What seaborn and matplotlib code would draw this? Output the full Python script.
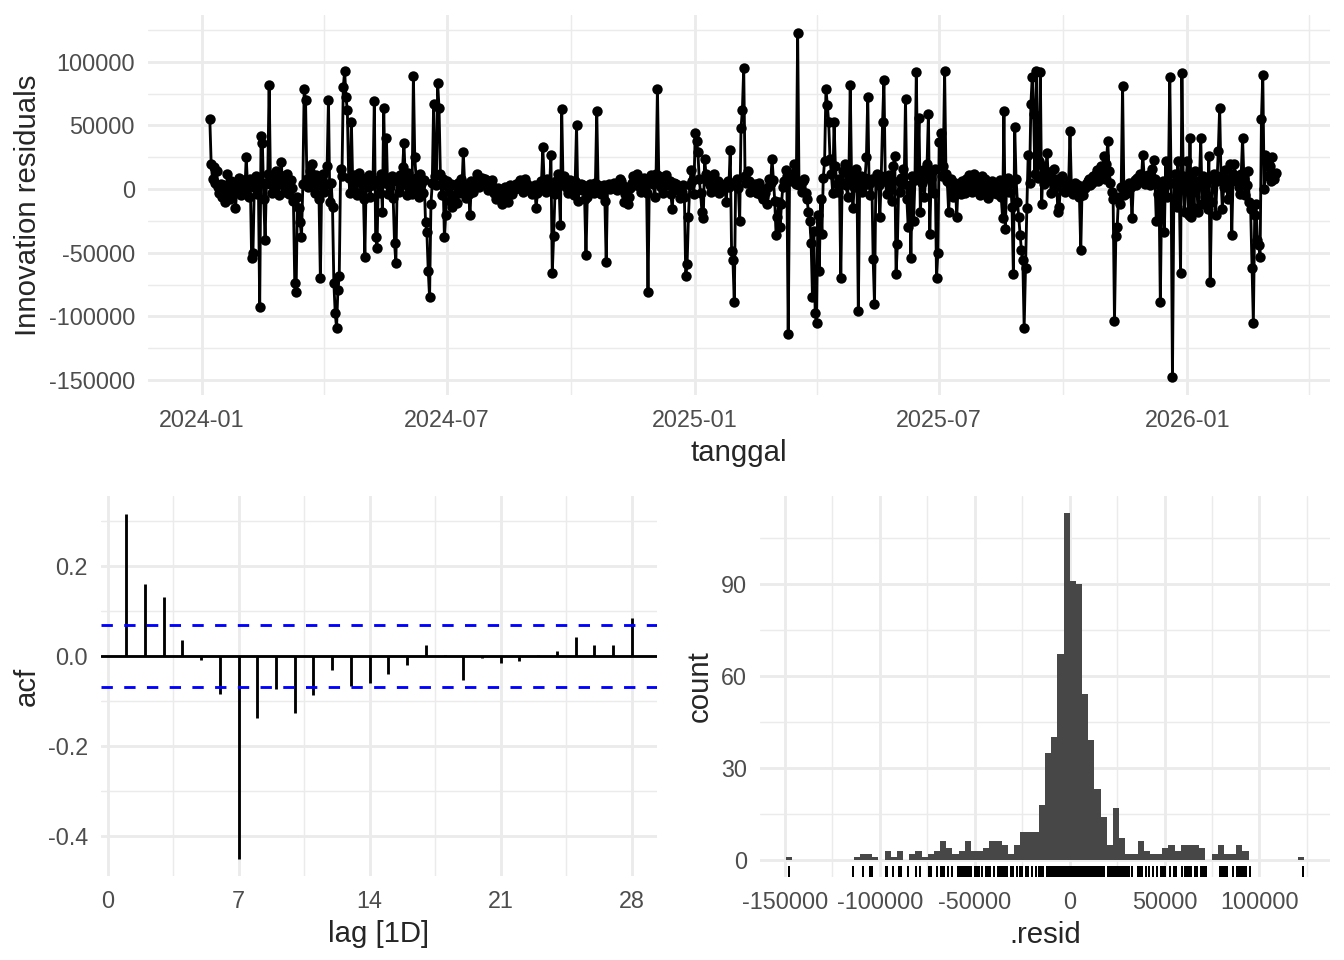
import numpy as np
import pandas as pd
import matplotlib
matplotlib.use("Agg")
import matplotlib.pyplot as plt
import matplotlib.dates as mdates
import seaborn as sns

# innovation residuals (thousands), one value per day starting 2024-01-07
resid_k = [
    55, 20, 8, 17, 5, 14, 2, -3, 4, -6, 3, -10, -4, 12, 1, -8, 6, -2, 3, -15,
    -2, 4, 9, -5, 2, 7, -1, 25, 3, -6, 8, -54, -50, 2, 10, -4, 6, -93, 42, 36,
    -8, -40, 5, 12, 82, 4, -3, 9, 2, 14, 6, -5, 11, 21, 3, 8, -2, 12, 5, -4,
    7, 1, -9, -74, -81, -6, -15, -26, -38, 4, 79, 70, 8, 2, 14, 5, 20, 9, -3, 11,
    3, -8, -70, 6, 12, -2, 4, 18, 70, -10, 5, -14, -74, -97, -109, -79, -68, 16, 10, 80,
    93, 72, 62, 9, -3, 53, 4, 11, -2, -5, 7, 13, -4, 6, -8, -53, 9, 2, 11, -6,
    8, 3, 69, -38, -46, 7, -3, 12, -18, 64, 5, 40, -4, 9, 2, 10, -7, -42, -58, 6,
    -2, 11, 3, 17, 36, 8, -5, 13, 1, 6, -4, 89, 25, 9, 2, -6, 12, 4, -3, 7,
    -26, -34, -64, -85, -12, 5, 67, 10, 3, 83, 64, 12, -5, 8, -38, -20, 6, 2, -9, 4,
    -14, -6, 3, -11, 5, -3, 8, 1, 29, 4, -7, 2, -4, -20, 6, -2, 3, 5, 12, 7,
    2, 4, 9, 6, 8, 5, -1, 3, 6, 7, 2, -3, -8, -5, 1, -2, -6, -12, -4, 2,
    -5, -10, -1, 3, -4, 2, 0, 4, 1, 5, 7, 3, -2, 6, 8, 4, 1, -1, 2, -4,
    0, 3, -15, -3, 2, -1, 6, 33, 5, -2, 8, 4, 1, 27, -66, -37, -4, 6, 12, 3,
    -28, 63, 5, 10, 2, 4, -3, 7, 1, 3, -5, 6, 50, -9, 2, 4, -1, 3, -8, -52,
    -6, 1, 4, 0, 2, -3, 5, 61, 3, -2, -4, 1, 3, -9, -57, 2, 4, 0, 1, 3,
    5, 2, -1, 4, 8, 6, 3, -10, -4, 2, -12, -6, 1, 5, 10, 7, 3, 12, 5, 2,
    -2, 4, 9, 3, -3, -81, 6, 11, 8, 4, -6, 12, 79, 10, 5, 2, -3, 7, 11, 4,
    3, 6, -4, -16, 5, 2, 4, -1, 1, -7, -2, 3, -6, -68, -59, -22, 3, 15, 6, -4,
    44, 38, 29, 8, -3, -18, -23, 24, 12, 6, 9, 3, -2, 7, 12, 5, 1, 6, -3, 4,
    2, -1, 3, -10, 6, 2, 31, -49, -56, -89, 4, 8, 1, -25, 48, 62, 95, 10, 5, 14,
    6, -2, 3, 1, 4, 2, -3, 5, 0, -5, -8, -6, -3, -12, 2, 8, 5, 24, 7, -9,
    -36, -22, -10, -30, -12, 2, 6, 15, 10, -114, 8, 12, 6, 20, 9, 4, 123, 3, 5, -2,
    6, 8, -3, -8, -18, -25, -42, -85, -33, -97, -105, -20, -64, -8, -35, 9, 22, 79, 66, 53,
    24, 12, -3, 53, 18, 4, -2, 8, -70, 5, 14, 20, 3, -6, 11, 82, 7, -15, 2, 16,
    4, -96, 6, 10, -2, 3, 9, 25, 72, 4, -5, 8, -55, -90, 6, 12, 3, -22, 10, 53,
    86, 8, -4, 5, 11, 2, -9, 18, 26, -67, -43, 6, -2, 9, 16, 4, 71, -8, -30, 3,
    -54, 10, -25, 7, 92, 12, 56, -18, 5, 15, -6, 9, 20, 59, -35, 8, 14, -3, 16, -70,
    -50, 37, 44, 10, 18, 93, 12, 6, -18, 4, 8, -6, 2, 5, -22, 3, 1, -4, 6, 2,
    -3, 8, 5, 11, 3, -2, 7, 12, 4, 9, 2, -5, 6, 10, 3, 8, -1, -7, 4, 2,
    6, -3, 1, 5, -4, 2, 7, -6, -23, 61, -31, 4, 9, -2, 5, -14, -67, 49, 8, -10,
    -22, -36, -48, -56, -109, -62, -15, 27, 5, 67, 88, 59, 12, 93, 9, 22, 92, -12, 18, 4,
    14, 28, 7, 12, -3, 6, 16, 2, 8, -18, -14, 5, 10, 3, -2, 6, 1, 4, 46, 3,
    -4, 2, 5, -1, 3, -6, -48, 2, -5, 1, 4, 6, 8, 3, 5, 10, 7, 12, 15, 6,
    9, 18, 11, 26, 8, 20, 38, 14, 5, -2, -8, -104, -37, -30, -6, -12, 2, 81, -5, 1,
    -3, 3, 5, 2, -23, 4, 7, 3, 9, 6, 12, 8, 27, 10, 4, 6, 11, 3, 5, 16,
    23, 8, -25, -4, 3, -89, -2, 6, -34, 22, -6, 4, 88, 5, -148, -8, 12, -14, 22, 3,
    -66, 91, 10, -18, 5, 22, -20, 40, -22, 8, -15, 14, 3, -18, 6, 40, -12, 10, -6, 4,
    -16, 26, -73, -10, 8, 12, -20, 6, 30, 64, 10, -16, 2, 15, 8, -8, 5, 20, -36, 12,
    20, 6, 10, 2, -4, 12, 40, 8, -5, 3, 14, -10, -16, -62, -105, -20, -12, -40, -44, -53,
    55, 90, 0, 27, 22, 10, 18, 6, 25, 8, 12, 13,
]
start_date = "2024-01-07"
# the series index starts 2024-01-01; the first days have no residual
index_start = "2024-01-01"

# autocorrelation of the residuals, lags 1..28
acf_vals = [0.317, 0.159, 0.131, 0.035, -0.010, -0.085, -0.452, -0.139, -0.073, -0.127,
            -0.087, -0.032, -0.067, -0.061, -0.041, -0.020, 0.024, 0.003, -0.053, -0.005,
            -0.016, -0.012, 0.001, 0.012, 0.043, 0.024, 0.024, 0.084]
acf_ci = 0.0696

# histogram of residuals: counts per bin, bins start at -149500, width 3250
hist_start = -149500
hist_binwidth = 3250
hist_counts = [1, 0, 0, 0, 0, 0, 0, 0, 0, 0, 0, 1, 2, 2, 1, 0, 3, 1, 3, 0,
               2, 3, 1, 2, 3, 6, 4, 2, 3, 6, 3, 3, 4, 6, 6, 5, 2, 5, 9, 9,
               9, 18, 35, 40, 67, 113, 91, 90, 54, 39, 23, 14, 5, 17, 7, 2, 2, 6, 3, 2,
               2, 4, 5, 3, 5, 5, 5, 4, 0, 2, 5, 2, 2, 5, 3, 0, 0, 0, 0, 0,
               0, 0, 0, 1]

sns.set_style("white")
plt.rcParams['font.family'] = ['Liberation Sans', 'DejaVu Sans']
plt.rcParams['axes.unicode_minus'] = False

W, H = 1344, 960
fig = plt.figure(figsize=(W / 144, H / 144), dpi=144)

TICK_FS = 11.7
TITLE_FS = 14.7
LW = 1.42


def add_ax(l, t, r, b):
    return fig.add_axes([l / W, 1 - b / H, (r - l) / W, (b - t) / H])


def style(ax):
    for s in ax.spines.values():
        s.set_visible(False)
    ax.tick_params(which='both', length=0, labelsize=TICK_FS, labelcolor='#4D4D4D')
    ax.tick_params(axis='x', pad=6.8)
    ax.tick_params(axis='y', pad=6.5)
    ax.grid(which='major', color='#EBEBEB', lw=LW)
    ax.grid(which='minor', color='#EBEBEB', lw=LW / 2)
    ax.set_axisbelow(True)


ax1 = add_ax(148, 15, 1330, 395)
ax2 = add_ax(101, 496, 657, 876)
ax3 = add_ax(760, 496, 1330, 877)

# --- residual time series ---
dates = pd.date_range(start_date, periods=len(resid_k), freq='D')
resid = np.array(resid_k) * 1000
sns.lineplot(x=dates, y=resid, ax=ax1, color='black', lw=LW,
             marker='o', markersize=5.2, markeredgewidth=0)
x0 = mdates.date2num(pd.Timestamp(index_start))
x1 = mdates.date2num(dates[-1])
ax1.set_xlim(x0 - 0.05 * (x1 - x0), x1 + 0.05 * (x1 - x0))
ax1.set_ylim(-161800, 136800)
major_dates = pd.to_datetime(['2024-01-01', '2024-07-01', '2025-01-01', '2025-07-01', '2026-01-01'])
minor_dates = pd.to_datetime(['2024-04-01', '2024-10-01', '2025-04-01', '2025-10-01', '2026-04-01'])
ax1.set_xticks(mdates.date2num(major_dates))
ax1.set_xticklabels([d.strftime('%Y-%m') for d in major_dates])
ax1.set_xticks(mdates.date2num(minor_dates), minor=True)
yt = [-150000, -100000, -50000, 0, 50000, 100000]
ax1.set_yticks(yt)
ax1.set_yticklabels([str(v) for v in yt])
ax1.set_yticks([-125000, -75000, -25000, 25000, 75000, 125000], minor=True)
ax1.set_xlabel('tanggal', fontsize=TITLE_FS, labelpad=3.5)
ax1.set_ylabel('Innovation residuals', fontsize=TITLE_FS, labelpad=3.5)
style(ax1)

# --- ACF ---
lags = np.arange(1, len(acf_vals) + 1)
ax2.vlines(lags, 0, acf_vals, color='black', lw=LW)
ax2.axhline(0, color='black', lw=LW)
ax2.axhline(acf_ci, color='blue', lw=LW, ls=(0, (4, 4)))
ax2.axhline(-acf_ci, color='blue', lw=LW, ls=(0, (4, 4)))
ax2.set_xlim(-0.35, 29.35)
ax2.set_ylim(-0.49, 0.356)
ax2.set_xticks([0, 7, 14, 21, 28])
ax2.set_xticks([3.5, 10.5, 17.5, 24.5], minor=True)
ax2.set_yticks([-0.4, -0.2, 0.0, 0.2])
ax2.set_yticklabels(['-0.4', '-0.2', '0.0', '0.2'])
ax2.set_yticks([-0.3, -0.1, 0.1, 0.3], minor=True)
ax2.set_xlabel('lag [1D]', fontsize=TITLE_FS, labelpad=3.5)
ax2.set_ylabel('acf', fontsize=TITLE_FS, labelpad=3.5)
style(ax2)

# --- histogram + rug ---
hist_right = hist_start + hist_binwidth * len(hist_counts)
hist_df = pd.DataFrame({
    'resid': hist_start + hist_binwidth * (np.arange(len(hist_counts)) + 0.5),
    'n': np.array(hist_counts, dtype=float),
})
sns.histplot(data=hist_df, x='resid', weights='n', binwidth=hist_binwidth,
             binrange=(hist_start, hist_right), ax=ax3,
             color='#474747', alpha=1, linewidth=0)
sns.rugplot(x=resid, ax=ax3, height=0.03, color='black', lw=LW)
ax3.set_xlim(-163150, 137150)
ax3.set_ylim(-5.6, 118.7)
xt = [-150000, -100000, -50000, 0, 50000, 100000]
ax3.set_xticks(xt)
ax3.set_xticklabels([str(v) for v in xt])
ax3.set_xticks([-125000, -75000, -25000, 25000, 75000, 125000], minor=True)
ax3.set_yticks([0, 30, 60, 90])
ax3.set_yticks([15, 45, 75, 105], minor=True)
ax3.set_xlabel('.resid', fontsize=TITLE_FS, labelpad=3.5)
ax3.set_ylabel('count', fontsize=TITLE_FS, labelpad=3.5)
style(ax3)

fig.savefig('out.png', dpi=144)
